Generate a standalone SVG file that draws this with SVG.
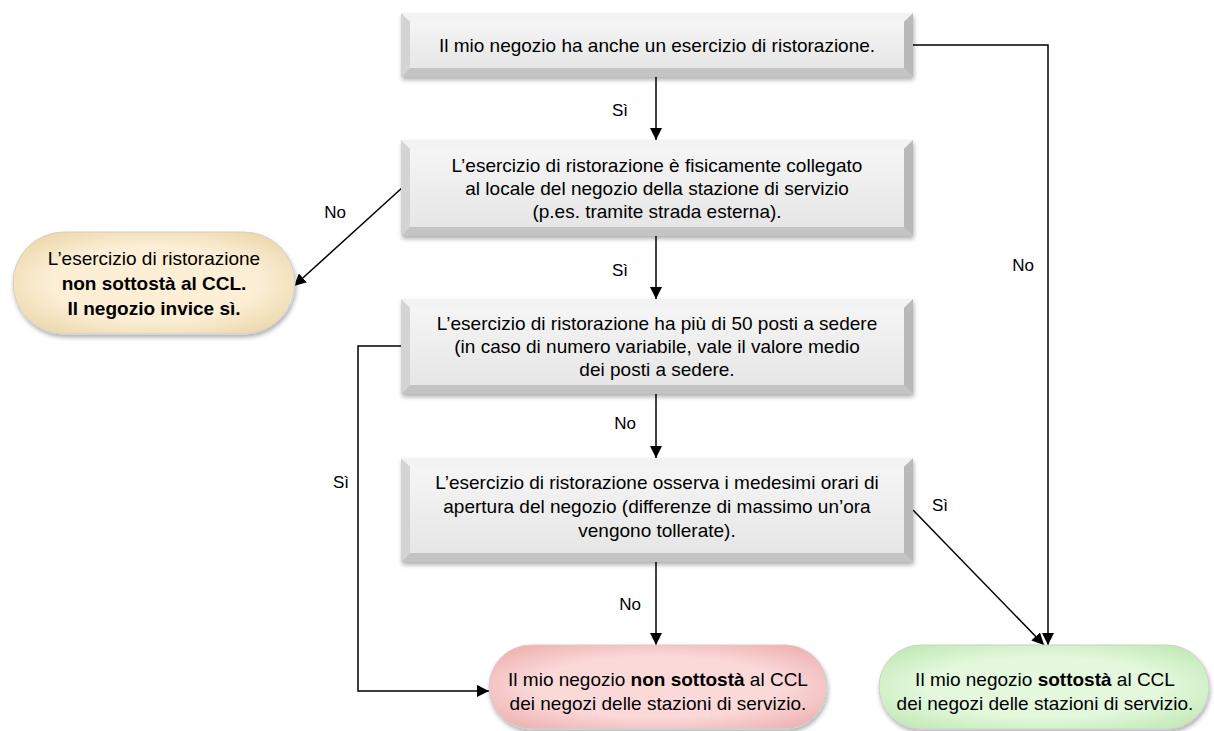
<svg xmlns="http://www.w3.org/2000/svg" width="1214" height="731" viewBox="0 0 1214 731">
<style>
text{font-family:"Liberation Sans",Arial,sans-serif;font-size:19px;fill:#000;text-anchor:middle}
.lbl{font-size:17px}
.b{font-weight:bold}
.bt{fill:#f3f3f3}.bl{fill:#d4d4d4}.br{fill:#b9b9b9}.bb{fill:#c4c4c4}
.face{fill:url(#gFace)}
.con{fill:none;stroke:#000;stroke-width:1.5}
.pill{stroke:#cfcfcf;stroke-width:1}
</style>
<defs>
<linearGradient id="gFace" x1="0" y1="0" x2="0" y2="1"><stop offset="0" stop-color="#f5f5f5"/><stop offset="1" stop-color="#e6e6e6"/></linearGradient>
<radialGradient id="gY" cx="0.5" cy="0.5" r="0.6"><stop offset="0.6" stop-color="#fcefd6"/><stop offset="1" stop-color="#ecd9ae"/></radialGradient>
<radialGradient id="gR" cx="0.5" cy="0.5" r="0.6"><stop offset="0.6" stop-color="#fbd9d9"/><stop offset="1" stop-color="#f0b6b6"/></radialGradient>
<radialGradient id="gG" cx="0.5" cy="0.5" r="0.6"><stop offset="0.6" stop-color="#e3f8dc"/><stop offset="1" stop-color="#c6ebbb"/></radialGradient>
<filter id="sh" x="-10%" y="-20%" width="120%" height="150%"><feDropShadow dx="1" dy="3" stdDeviation="2" flood-color="#000" flood-opacity="0.3"/></filter>
<marker id="arr" markerUnits="userSpaceOnUse" markerWidth="12" markerHeight="12" viewBox="0 0 12 12" refX="12" refY="6" orient="auto"><path d="M0,0 L12,6 L0,12 z" fill="#000"/></marker>
</defs>

<g id="connectors">
<path class="con" d="M656,77 V140" marker-end="url(#arr)"/>
<path class="con" d="M913,45 H1048 V645" marker-end="url(#arr)"/>
<path class="con" d="M403,187 L294,286" marker-end="url(#arr)"/>
<path class="con" d="M656,236 V299" marker-end="url(#arr)"/>
<path class="con" d="M401,346 H358 V691 H489" marker-end="url(#arr)"/>
<path class="con" d="M656,394 V458" marker-end="url(#arr)"/>
<path class="con" d="M656,562 V645" marker-end="url(#arr)"/>
<path class="con" d="M913,510 L1044,645" marker-end="url(#arr)"/>
<text class="lbl" x="620" y="116">Sì</text>
<text class="lbl" x="335" y="218">No</text>
<text class="lbl" x="620" y="276">Sì</text>
<text class="lbl" x="625" y="429">No</text>
<text class="lbl" x="630" y="610">No</text>
<text class="lbl" x="1023" y="271">No</text>
<text class="lbl" x="940" y="511">Sì</text>
<text class="lbl" x="341" y="488">Sì</text>
</g>

<g id="box1">
<g filter="url(#sh)">
<polygon class="bt" points="401,13 913,13 904,22 410,22"/>
<polygon class="bb" points="401,77 913,77 904,68 410,68"/>
<polygon class="bl" points="401,13 410,22 410,68 401,77"/>
<polygon class="br" points="913,13 904,22 904,68 913,77"/>
<rect class="face" x="410" y="22" width="494" height="46"/>
</g>
<text x="657" y="52">Il mio negozio ha anche un esercizio di ristorazione.</text>
</g>

<g id="box2">
<g filter="url(#sh)">
<polygon class="bt" points="401,140 913,140 904,149 410,149"/>
<polygon class="bb" points="401,236 913,236 904,227 410,227"/>
<polygon class="bl" points="401,140 410,149 410,227 401,236"/>
<polygon class="br" points="913,140 904,149 904,227 913,236"/>
<rect class="face" x="410" y="149" width="494" height="78"/>
</g>
<text x="657" y="172">L’esercizio di ristorazione è fisicamente collegato</text>
<text x="657" y="195">al locale del negozio della stazione di servizio</text>
<text x="657" y="218">(p.es. tramite strada esterna).</text>
</g>

<g id="box3">
<g filter="url(#sh)">
<polygon class="bt" points="401,299 913,299 904,308 410,308"/>
<polygon class="bb" points="401,394 913,394 904,385 410,385"/>
<polygon class="bl" points="401,299 410,308 410,385 401,394"/>
<polygon class="br" points="913,299 904,308 904,385 913,394"/>
<rect class="face" x="410" y="308" width="494" height="77"/>
</g>
<text x="657" y="330">L’esercizio di ristorazione ha più di 50 posti a sedere</text>
<text x="657" y="353">(in caso di numero variabile, vale il valore medio</text>
<text x="657" y="376">dei posti a sedere.</text>
</g>

<g id="box4">
<g filter="url(#sh)">
<polygon class="bt" points="401,458 913,458 904,467 410,467"/>
<polygon class="bb" points="401,562 913,562 904,553 410,553"/>
<polygon class="bl" points="401,458 410,467 410,553 401,562"/>
<polygon class="br" points="913,458 904,467 904,553 913,562"/>
<rect class="face" x="410" y="467" width="494" height="86"/>
</g>
<text x="657" y="489">L’esercizio di ristorazione osserva i medesimi orari di</text>
<text x="657" y="513">apertura del negozio (differenze di massimo un’ora</text>
<text x="657" y="537">vengono tollerate).</text>
</g>

<g id="yellow">
<rect class="pill" x="13" y="232" width="282" height="102" rx="51" fill="url(#gY)" filter="url(#sh)"/>
<text x="154" y="265">L’esercizio di ristorazione</text>
<text x="154" y="290" class="b">non sottostà al CCL.</text>
<text x="154" y="315" class="b">Il negozio invice sì.</text>
</g>

<g id="red">
<rect class="pill" x="489" y="645" width="338" height="84" rx="42" fill="url(#gR)" filter="url(#sh)"/>
<text x="658" y="686">Il mio negozio <tspan class="b">non sottostà</tspan> al CCL</text>
<text x="658" y="710">dei negozi delle stazioni di servizio.</text>
</g>

<g id="green">
<rect class="pill" x="879" y="645" width="330" height="84" rx="42" fill="url(#gG)" filter="url(#sh)"/>
<text x="1045" y="686">Il mio negozio <tspan class="b">sottostà</tspan> al CCL</text>
<text x="1045" y="710">dei negozi delle stazioni di servizio.</text>
</g>
</svg>
